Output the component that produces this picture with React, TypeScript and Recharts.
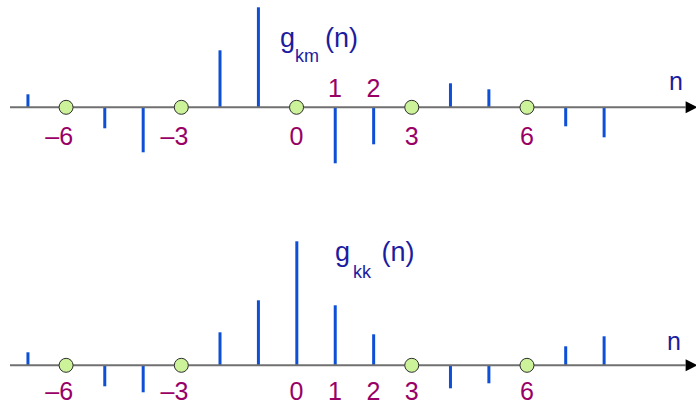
import React from "react";
import { ComposedChart, Bar, Scatter, XAxis, YAxis, ReferenceLine } from "recharts";

// shared n-axis range and the drawn extent of the horizontal axis
const nDomain: [number, number] = [-7.72, 10.4];
const axisStart = -7.46;
const axisEnd = 10.13;

// g_km(n)
const kmN = [-7, -5, -4, -2, -1, 1, 2, 4, 5, 7, 8];
const kmValues = [0.13, -0.21, -0.45, 0.57, 1.0, -0.56, -0.37, 0.24, 0.18, -0.19, -0.3];
const kmZeros = [-6, -3, 0, 3, 6];
const kmTicksBelow = [-6, -3, 0, 3, 6];
const kmTicksAbove = [1, 2];

// g_kk(n)
const kkN = [-7, -5, -4, -2, -1, 0, 1, 2, 4, 5, 7, 8];
const kkValues = [0.13, -0.21, -0.27, 0.33, 0.65, 1.24, 0.6, 0.31, -0.23, -0.18, 0.19, 0.29];
const kkZeros = [-6, -3, 3, 6];
const kkTicksBelow = [-6, -3, 0, 1, 2, 3, 6];

const FONT = "'Liberation Sans', Arial, sans-serif";
const STEM = "#0d4fd6";
const TICK = "#990066";
const NAVY = "#1c1ca0";

const toPoints = (ns: number[], vs?: number[]) => ns.map((n, i) => ({ n, v: vs ? vs[i] : 0 }));

const ZeroDot = (p: any) => (
  <circle cx={p.cx} cy={p.cy} r={7} fill="#cdf39a" stroke="#2e2e2e" strokeWidth={1} />
);

const ArrowHead = (p: any) => (
  <polygon
    points={`${p.cx},${p.cy - 6} ${p.cx + 12},${p.cy} ${p.cx},${p.cy + 6}`}
    fill="#000"
  />
);

const tickLabel = (dy: number) => (p: any) => {
  const n = p.payload.n;
  const neg = n < 0;
  return (
    <text
      x={neg ? p.cx + 7 : p.cx}
      y={p.cy + dy}
      textAnchor={neg ? "end" : "middle"}
      fontFamily={FONT}
      fontSize={25}
      fill={TICK}
    >
      {neg ? `\u2013${-n}` : String(n)}
    </text>
  );
};

type PanelProps = {
  ns: number[];
  values: number[];
  zeros: number[];
  below: number[];
  above?: number[];
  height: number;
  yDomain: [number, number];
  belowDy: number;
};

function StemPanel({ ns, values, zeros, below, above = [], height, yDomain, belowDy }: PanelProps) {
  const stems = toPoints(ns, values);
  return (
    <ComposedChart width={696} height={height} data={stems} margin={{ top: 0, right: 0, bottom: 0, left: 0 }}>
      <XAxis dataKey="n" type="number" domain={nDomain} allowDataOverflow hide />
      <YAxis dataKey="v" type="number" domain={yDomain} allowDataOverflow hide />
      <ReferenceLine
        segment={[{ x: axisStart, y: 0 }, { x: axisEnd, y: 0 }]}
        stroke="#707070"
        strokeWidth={2}
      />
      <Bar dataKey="v" fill={STEM} barSize={3} isAnimationActive={false} />
      <Scatter data={toPoints(zeros)} dataKey="v" shape={ZeroDot} isAnimationActive={false} />
      <Scatter data={toPoints([axisEnd])} dataKey="v" shape={ArrowHead} isAnimationActive={false} />
      <Scatter data={toPoints(below)} dataKey="v" shape={tickLabel(belowDy)} isAnimationActive={false} />
      {above.length > 0 && (
        <Scatter data={toPoints(above)} dataKey="v" shape={tickLabel(-10)} isAnimationActive={false} />
      )}
    </ComposedChart>
  );
}

export default function App() {
  return (
    <div style={{ position: "absolute", left: 0, top: 0, width: 696, height: 404, background: "#fff" }}>
      <StemPanel
        ns={kmN}
        values={kmValues}
        zeros={kmZeros}
        below={kmTicksBelow}
        above={kmTicksAbove}
        height={200}
        yDomain={[-0.927, 1.073]}
        belowDy={38}
      />
      <StemPanel
        ns={kkN}
        values={kkValues}
        zeros={kkZeros}
        below={kkTicksBelow}
        height={204}
        yDomain={[-0.387, 1.653]}
        belowDy={35}
      />
      <svg
        width={696}
        height={404}
        style={{ position: "absolute", left: 0, top: 0, pointerEvents: "none" }}
        fontFamily={FONT}
        fill={NAVY}
      >
        <text x={280} y={47} fontSize={27}>g</text>
        <text x={295} y={61.5} fontSize={18}>km</text>
        <text x={325} y={47} fontSize={27}>(n)</text>
        <text x={669} y={90} fontSize={25}>n</text>

        <text x={335} y={260.5} fontSize={27}>g</text>
        <text x={353} y={278} fontSize={18}>kk</text>
        <text x={381.5} y={260.5} fontSize={27}>(n)</text>
        <text x={667} y={350} fontSize={25}>n</text>
      </svg>
    </div>
  );
}
